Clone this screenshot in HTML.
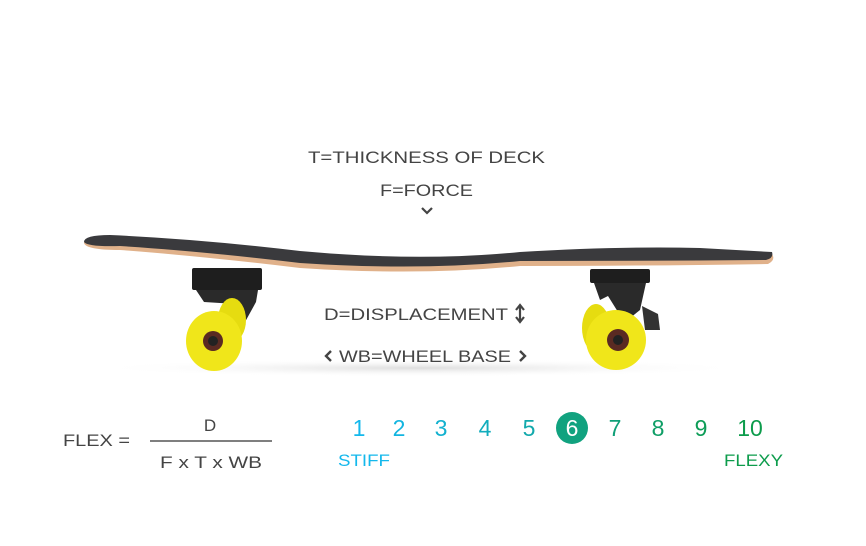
<!DOCTYPE html>
<html><head><meta charset="utf-8"><style>
body{margin:0;background:#fff;width:866px;height:546px;overflow:hidden}
svg{display:block}
text{font-family:"Liberation Sans",sans-serif}
</style></head><body>
<svg width="866" height="546" viewBox="0 0 866 546">
<defs>
<radialGradient id="sh" cx="0.5" cy="0.5" r="0.5"><stop offset="0" stop-color="#ddd"/><stop offset="1" stop-color="#fff" stop-opacity="0"/></radialGradient>
</defs>
<ellipse cx="420" cy="368" rx="330" ry="9" fill="url(#sh)"/>
<g fill="#444" font-size="17">
<text x="308" y="163" textLength="237" lengthAdjust="spacingAndGlyphs">T=THICKNESS OF DECK</text>
<text x="380" y="196" textLength="93" lengthAdjust="spacingAndGlyphs">F=FORCE</text>
</g>
<path d="M422 208 L427 213 L432 208" stroke="#444" stroke-width="2.2" fill="none"/>
<path d="M84 243 Q84 236 110 236 Q200 240 300 254 Q420 266 520 256 Q620 249 700 251 L772 254 Q776 260 768 264 Q640 266 520 266 Q420 276 300 268 Q200 256 120 250 Q86 250 84 243Z" fill="#e0b18a"/>
<path d="M84 242 Q84 235 110 235 Q200 239 300 251 Q420 262 520 252 Q620 246 700 248 L772 252 Q774 258 766 260 Q640 261 520 261 Q420 271 300 263 Q200 251 120 246 Q88 247 84 242Z" fill="#3a3a3d"/>
<rect x="192" y="268" width="70" height="22" rx="2" fill="#1e1e1e"/>
<path d="M196 290 L258 290 L256 302 L245 322 L232 318 L236 304 L204 302Z" fill="#2a2a2a"/>
<ellipse cx="232" cy="320" rx="14" ry="22" fill="#e6dc10"/>
<ellipse cx="214" cy="341" rx="28" ry="30" fill="#f0e61a"/>
<circle cx="213" cy="341" r="10" fill="#5a2a22"/><circle cx="213" cy="341" r="5" fill="#222"/>
<rect x="590" y="269" width="60" height="14" rx="2" fill="#1e1e1e"/>
<path d="M594 283 L646 283 L640 310 L630 318 L618 312 L608 296 L600 300 Z" fill="#2a2a2a"/>
<path d="M642 306 L658 314 L660 330 L645 330Z" fill="#333"/>
<ellipse cx="596" cy="328" rx="14" ry="24" fill="#e6dc10"/>
<ellipse cx="616" cy="340" rx="30" ry="30" fill="#f0e61a"/>
<circle cx="618" cy="340" r="11" fill="#5a2a22"/><circle cx="618" cy="340" r="5" fill="#222"/>
<g fill="#444" font-size="17">
<text x="324" y="320" textLength="184" lengthAdjust="spacingAndGlyphs">D=DISPLACEMENT</text>
<text x="339" y="362" textLength="172" lengthAdjust="spacingAndGlyphs">WB=WHEEL BASE</text>
<text x="63" y="446" textLength="67" lengthAdjust="spacingAndGlyphs">FLEX =</text>
<text x="210" y="431" text-anchor="middle">D</text>
<text x="160" y="468" textLength="102" lengthAdjust="spacingAndGlyphs">F x T x WB</text>
</g>
<path d="M516 310 L520 305 L524 310 M520 305 L520 322 M516 317 L520 322 L524 317" stroke="#444" stroke-width="2.2" fill="none"/>
<path d="M331 351 L326 356 L331 361" stroke="#444" stroke-width="2.4" fill="none"/>
<path d="M520 351 L525 356 L520 361" stroke="#444" stroke-width="2.4" fill="none"/>
<line x1="150" y1="441" x2="272" y2="441" stroke="#555" stroke-width="1.5"/>
<g font-size="23" text-anchor="middle">
<text x="359" y="436" fill="#14b8ec">1</text>
<text x="399" y="436" fill="#13b5e0">2</text>
<text x="441" y="436" fill="#12b1cf">3</text>
<text x="485" y="436" fill="#11adbd">4</text>
<text x="529" y="436" fill="#12a9ac">5</text>
<circle cx="572" cy="428" r="16" fill="#11a27f"/>
<text x="572" y="436" fill="#fff">6</text>
<text x="615" y="436" fill="#109f78">7</text>
<text x="658" y="436" fill="#0f9e66">8</text>
<text x="701" y="436" fill="#0e9d58">9</text>
<text x="750" y="436" fill="#0d9c4c">10</text>
</g>
<text x="338" y="466" font-size="17" fill="#14b8ec" textLength="52" lengthAdjust="spacingAndGlyphs">STIFF</text>
<text x="724" y="466" font-size="17" fill="#0d9c4c" textLength="59" lengthAdjust="spacingAndGlyphs">FLEXY</text>
</svg>
</body></html>
